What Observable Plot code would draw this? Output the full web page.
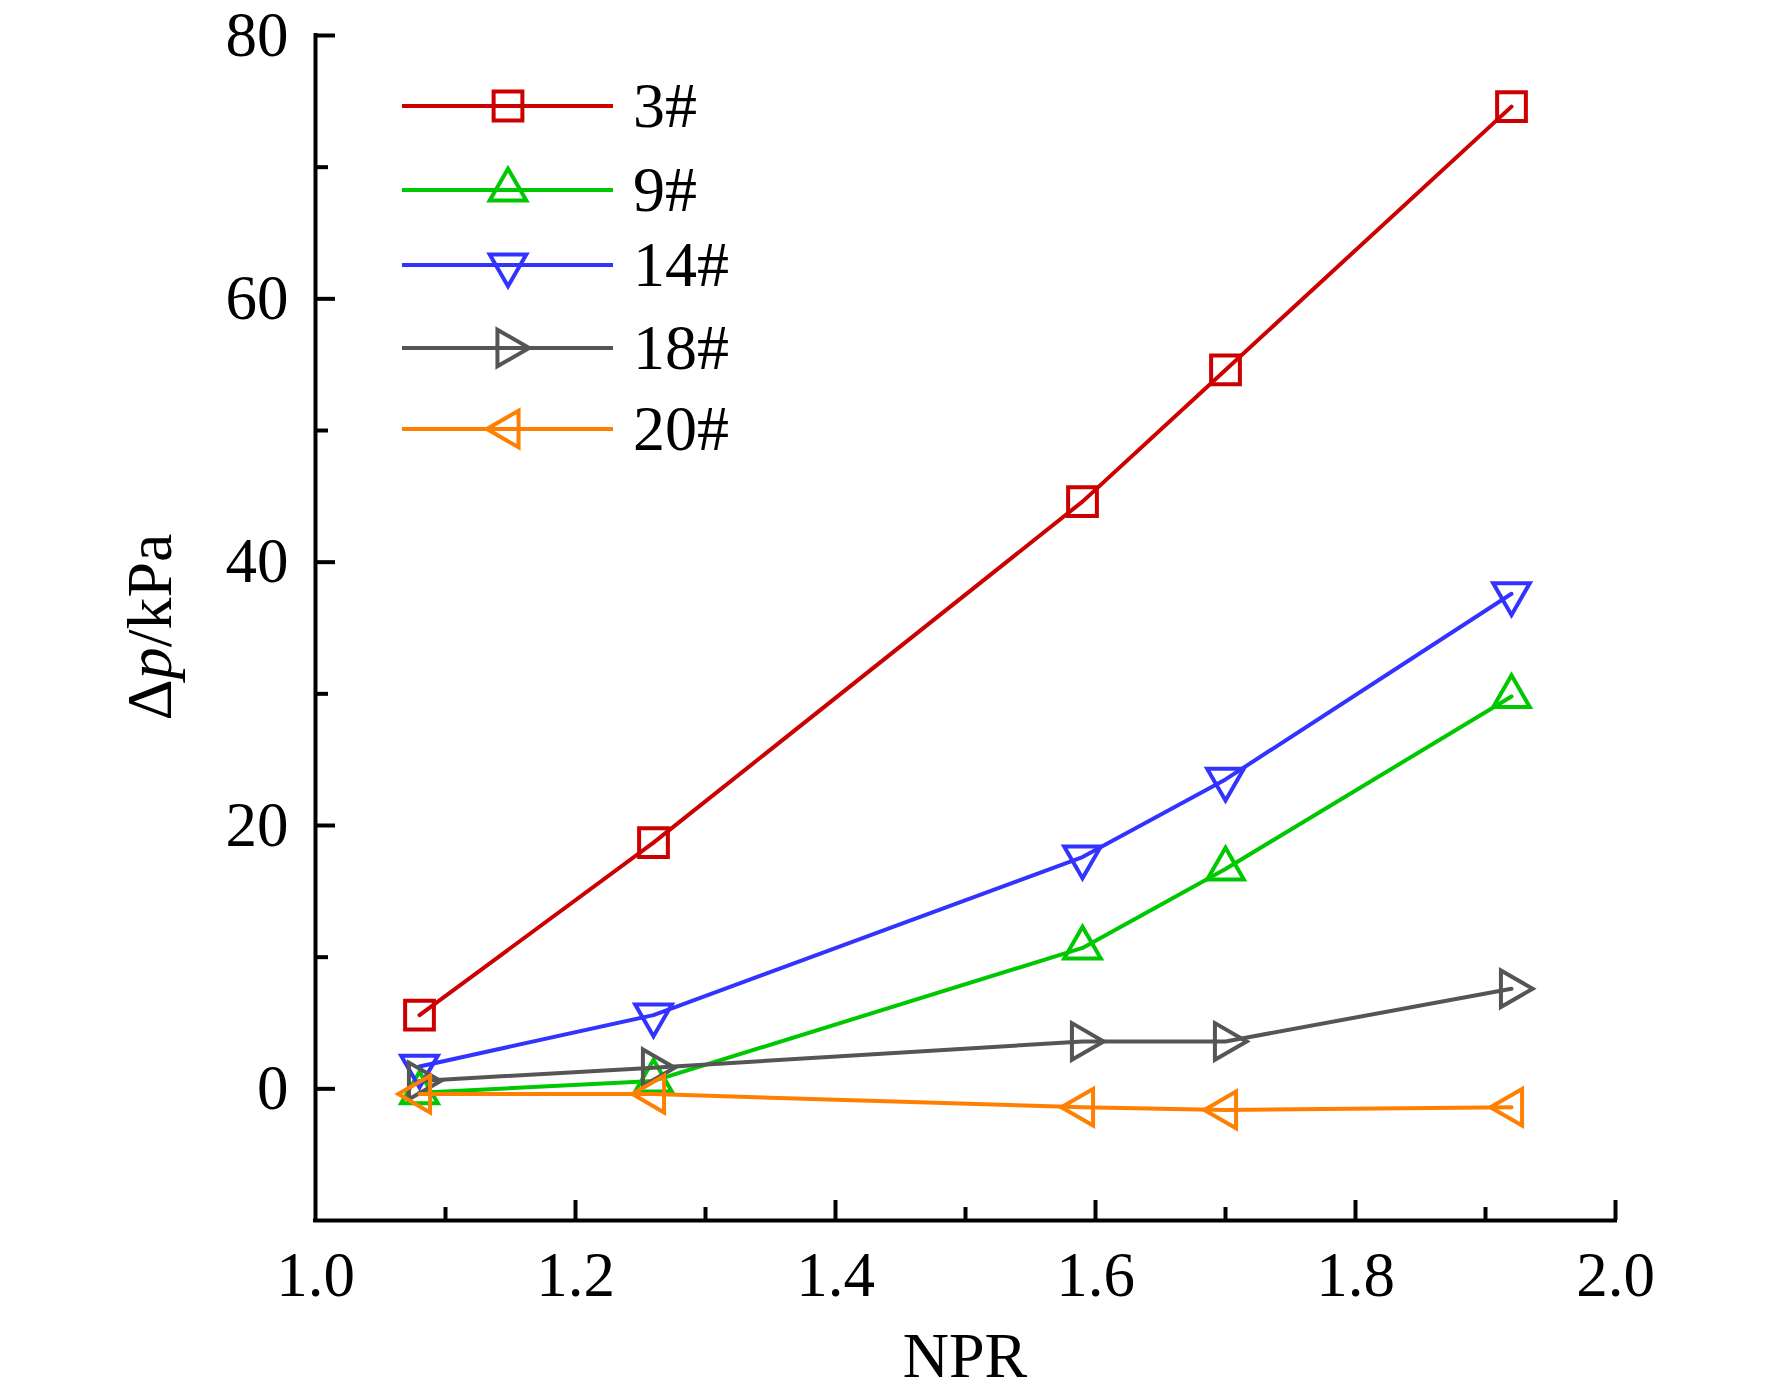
<!DOCTYPE html>
<html>
<head>
<meta charset="utf-8">
<script src="https://cdn.jsdelivr.net/npm/d3@7"></script>
<script src="https://cdn.jsdelivr.net/npm/@observablehq/plot@0.6"></script>
<style>
  html, body { margin: 0; padding: 0; background: #fff; }
  #chart svg { display: block; }
</style>
</head>
<body>
<div id="chart"></div>
<script>
// ---- data ----
const npr = [1.08, 1.26, 1.59, 1.70, 1.92];
const s3  = [5.6, 18.7, 44.6, 54.6, 74.6];
const s9  = [-0.3, 0.6, 10.7, 16.7, 29.8];
const s14 = [1.7, 5.6, 17.6, 23.5, 37.6];
const s18 = [0.6, 1.6, 3.6, 3.6, 7.6];
const s20 = [-0.4, -0.4, -1.4, -1.6, -1.4];
const seriesNames = ["3#", "9#", "14#", "18#", "20#"];
const seriesValues = [s3, s9, s14, s18, s20];
const seriesColors = ["#cc0000", "#00c800", "#3333ff", "#555555", "#ff8000"];
const seriesSymbols = ["square", "up", "down", "right", "left"];

const xDomain = [1.0, 2.0];
const yDomain = [-10, 80];
const xMajor = [1.2, 1.4, 1.6, 1.8, 2.0];
const xMinor = [1.1, 1.3, 1.5, 1.7, 1.9];
const xLabels = [1.0, 1.2, 1.4, 1.6, 1.8, 2.0];
const yMajor = [0, 20, 40, 60, 80];
const yMinor = [10, 30, 50, 70];

// ---- custom symbols (centroid-centred) ----
const S3 = Math.sqrt(3);
function tri(pts) {
  return {draw(ctx, size) {
    const t = Math.sqrt(size / (3 * S3));
    ctx.moveTo(pts[0][0] * t, pts[0][1] * t);
    ctx.lineTo(pts[1][0] * t, pts[1][1] * t);
    ctx.lineTo(pts[2][0] * t, pts[2][1] * t);
    ctx.closePath();
  }};
}
const symbolMap = {
  square: {draw(ctx, size) {
    const t = Math.sqrt(size / (3 * S3));
    const h = 1.36 * t;
    ctx.moveTo(-h, -h); ctx.lineTo(h, -h); ctx.lineTo(h, h); ctx.lineTo(-h, h); ctx.closePath();
  }},
  up: tri([[0, -2], [S3, 1], [-S3, 1]]),
  down: tri([[0, 2], [S3, -1], [-S3, -1]]),
  right: tri([[2, 0], [-1, -S3], [-1, S3]]),
  left: tri([[-2, 0], [1, -S3], [1, S3]])
};
const R = 13.6;
const LW = 4;

const tables = seriesNames.map((name, i) => npr.map((x, j) => ({x, y: seriesValues[i][j], series: name})));

const marks = [
  // axis lines
  Plot.ruleX([xDomain[0]], {stroke: "black", strokeWidth: 4, strokeLinecap: "square"}),
  Plot.ruleY([yDomain[0]], {stroke: "black", strokeWidth: 4, strokeLinecap: "square"}),
  // inward ticks
  Plot.axisY({ticks: yMajor, tickSize: 20, dx: 20, tickFormat: () => "", label: null, strokeWidth: 4}),
  Plot.axisY({ticks: yMinor, tickSize: 13, dx: 13, tickFormat: () => "", label: null, strokeWidth: 4}),
  Plot.axisX({ticks: xMajor, tickSize: 20, dy: -20, tickFormat: () => "", label: null, strokeWidth: 4}),
  Plot.axisX({ticks: xMinor, tickSize: 13, dy: -13, tickFormat: () => "", label: null, strokeWidth: 4}),
  // tick labels
  Plot.axisY({ticks: yMajor, tickSize: 0, tickPadding: 27, tickFormat: d3.format("d"), label: null}),
  Plot.axisX({ticks: xLabels, tickSize: 0, tickPadding: 31, tickFormat: d3.format(".1f"), label: null})
];
tables.forEach((tab, i) => {
  marks.push(Plot.line(tab, {x: "x", y: "y", stroke: seriesColors[i], strokeWidth: LW}));
  marks.push(Plot.dot(tab, {x: "x", y: "y", r: R, symbol: symbolMap[seriesSymbols[i]], stroke: seriesColors[i], strokeWidth: LW, fill: "none"}));
});

const W = 1772, H = 1399;
const fontFam = "'Liberation Serif', 'Times New Roman', Times, serif";
const chart = Plot.plot({
  width: W,
  height: H,
  marginLeft: 315,
  marginRight: 157,
  marginTop: 35,
  marginBottom: 179,
  x: {domain: xDomain},
  y: {domain: yDomain},
  style: {fontFamily: fontFam, fontSize: "63px", color: "black", background: "white"},
  marks
});
document.getElementById("chart").appendChild(chart);

const svg = d3.select(chart);

// Y axis title
const yt = svg.append("text")
  .attr("transform", "translate(171,627) rotate(-90)")
  .attr("text-anchor", "middle")
  .attr("font-family", fontFam)
  .attr("font-size", 64)
  .attr("fill", "black");
yt.append("tspan").text("Δ");
yt.append("tspan").attr("font-style", "italic").text("p");
yt.append("tspan").text("/kPa");

// X axis title
svg.append("text")
  .attr("x", 965).attr("y", 1377)
  .attr("text-anchor", "middle")
  .attr("font-family", fontFam)
  .attr("font-size", 64)
  .attr("fill", "black")
  .text("NPR");

// Legend
const legendRows = [106, 190, 265, 348, 429];
const lg = svg.append("g").attr("text-anchor", "start");
seriesNames.forEach((name, i) => {
  const y = legendRows[i];
  lg.append("line").attr("x1", 402).attr("x2", 613).attr("y1", y).attr("y2", y)
    .attr("stroke", seriesColors[i]).attr("stroke-width", LW);
  const p = d3.path();
  symbolMap[seriesSymbols[i]].draw(p, Math.PI * R * R);
  lg.append("path").attr("d", p.toString()).attr("transform", `translate(508,${y})`)
    .attr("fill", "none").attr("stroke", seriesColors[i]).attr("stroke-width", LW);
  lg.append("text").attr("x", 633).attr("y", y).attr("dy", "0.33em")
    .attr("text-anchor", "start")
    .attr("font-family", fontFam).attr("font-size", 64).attr("fill", "black").text(name);
});
</script>
</body>
</html>
